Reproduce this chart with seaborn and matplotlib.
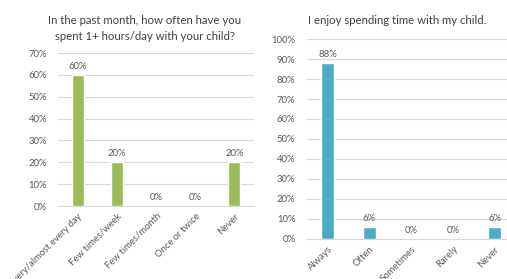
import matplotlib
matplotlib.use("Agg")
import matplotlib.pyplot as plt
import seaborn as sns
import pandas as pd
from matplotlib.ticker import PercentFormatter, MultipleLocator

# data
time_cats = ['Every/almost every day', 'Few times/week', 'Few times/month', 'Once or twice', 'Never']
time_vals = [0.60, 0.20, 0.0, 0.0, 0.20]

enjoy_cats = ['Always', 'Often', 'Sometimes', 'Rarely', 'Never']
enjoy_vals = [0.88, 0.06, 0.0, 0.0, 0.06]

sns.set_style('white')
plt.rcParams['font.family'] = ['Lato', 'DejaVu Sans']

TXT = '#595959'
GRID = '#D9D9D9'

fig = plt.figure(figsize=(5.07, 2.79), dpi=100)
ax1 = fig.add_axes([0.1144, 0.2616, 0.3866, 0.5484])
ax2 = fig.add_axes([0.6047, 0.1434, 0.4122, 0.7168])


def draw(ax, cats, vals, color, top, step):
    df = pd.DataFrame({'cat': cats, 'val': vals})
    sns.barplot(data=df, x='cat', y='val', color=color, width=0.31, ax=ax, saturation=1)
    ax.set_ylim(0, top)
    ax.set_xlim(-0.5, len(cats) - 0.5)
    ax.yaxis.set_major_locator(MultipleLocator(step))
    ax.yaxis.set_major_formatter(PercentFormatter(1.0, decimals=0))
    ax.grid(axis='y', color=GRID, linewidth=0.8)
    ax.set_axisbelow(True)
    for s in ['left', 'right', 'top']:
        ax.spines[s].set_visible(False)
    ax.spines['bottom'].set_color(GRID)
    ax.spines['bottom'].set_linewidth(0.8)
    ax.tick_params(length=0, labelsize=6.8, colors=TXT, pad=4)
    ax.tick_params(axis='y', pad=8)
    ax.set_xlabel('')
    ax.set_ylabel('')
    for lab in ax.get_xticklabels():
        lab.set_rotation(45)
        lab.set_ha('right')
        lab.set_rotation_mode('anchor')
    ax.bar_label(ax.containers[0], labels=[f'{v * 100:.0f}%' for v in vals],
                 padding=3, fontsize=6.8, color=TXT)


draw(ax1, time_cats, time_vals, '#9BBB59', 0.7, 0.1)
draw(ax2, enjoy_cats, enjoy_vals, '#4BACC6', 1.0, 0.1)

fig.text(145 / 507, 1 - 20 / 279, 'In the past month, how often have you', ha='center', va='center',
         fontsize=8.2, color='#404040')
fig.text(145 / 507, 1 - 36 / 279, 'spent 1+ hours/day with your child?', ha='center', va='center',
         fontsize=8.2, color='#404040')
fig.text(397 / 507, 1 - 21 / 279, 'I enjoy spending time with my child.', ha='center', va='center',
         fontsize=8.2, color='#404040')

fig.savefig('out.png', dpi=100)
